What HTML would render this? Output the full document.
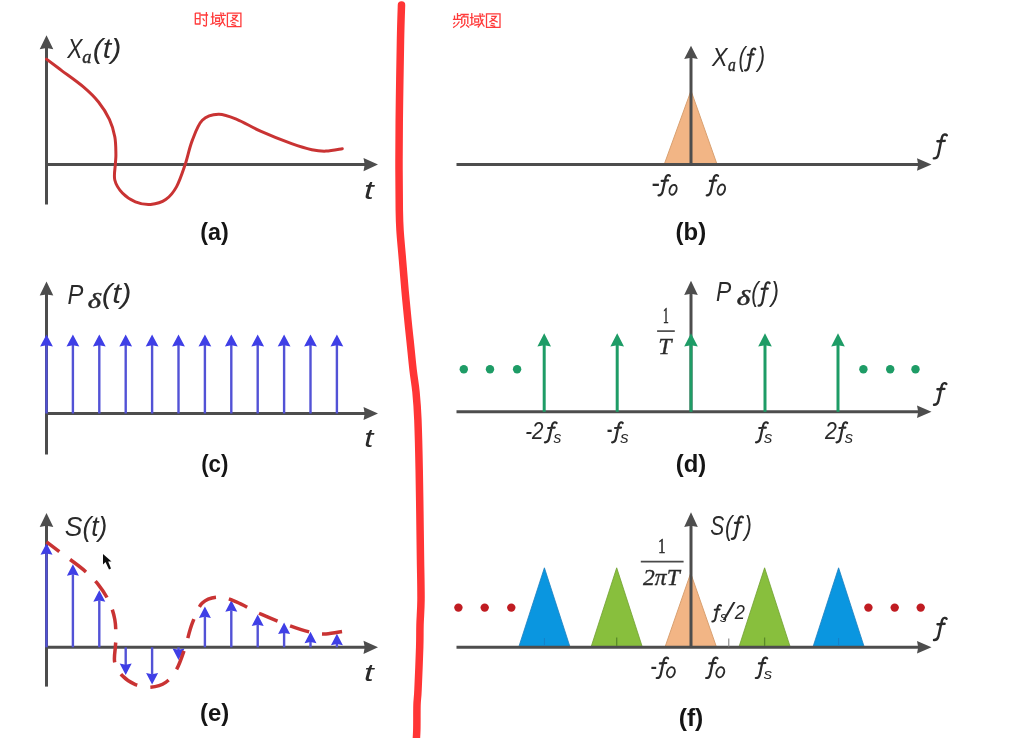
<!DOCTYPE html>
<html><head><meta charset="utf-8"><style>
html,body{margin:0;padding:0;background:#fff;width:1035px;height:738px;overflow:hidden}
svg{display:block;filter:blur(0.45px)}
</style></head><body>
<svg width="1035" height="738" viewBox="0 0 1035 738">
<defs><filter id="blur" x="-50%" y="-50%" width="200%" height="200%"><feGaussianBlur stdDeviation="0.6"/></filter></defs>
<rect width="1035" height="738" fill="#fff"/>
<path d="M401.5,5.0 C401.3,10.8 400.8,24.2 400.5,40.0 C400.2,55.8 399.8,80.0 399.5,100.0 C399.2,120.0 399.0,141.7 399.0,160.0 C399.0,178.3 399.1,198.3 399.3,210.0 C399.5,221.7 399.5,221.7 400.0,230.0 C400.5,238.3 401.7,250.0 402.5,260.0 C403.3,270.0 404.1,280.0 405.0,290.0 C405.9,300.0 407.1,311.7 407.9,320.0 C408.7,328.3 409.1,331.7 410.0,340.0 C410.9,348.3 412.1,361.3 413.1,370.0 C414.1,378.7 415.2,383.7 416.0,392.0 C416.8,400.3 417.4,407.0 417.9,420.0 C418.4,433.0 418.9,454.2 419.2,470.0 C419.5,485.8 419.7,500.0 419.9,515.0 C420.1,530.0 420.3,545.8 420.5,560.0 C420.7,574.2 421.1,589.2 421.0,600.0 C420.9,610.8 420.2,617.2 420.0,625.0 C419.8,632.8 420.0,636.2 419.7,647.0 C419.4,657.8 418.4,680.3 418.0,690.0 C417.6,699.7 417.2,698.3 417.0,705.0 C416.8,711.7 417.0,723.3 416.8,730.0 C416.6,736.7 416.1,742.5 416.0,745.0" fill="none" stroke="#ff3535" stroke-width="7.5" stroke-linecap="round" stroke-linejoin="round"/>
<g fill="none" stroke="#ff3a3a" stroke-width="1.3">
<path d="M195.3,13.1 V24.5 M195.3,13.1 H200 V24.5 M195.3,18.6 H200 M195.3,24 H200 M200.8,15 H208.1 M206.4,12.1 V25.2 Q206.4,26 205.4,26 L203,25.4 M202.7,18.3 L204.6,21 M210.8,16.9 H214.6 M212.7,12.3 V23.4 M210.3,24.5 L215.4,22.7 M214.9,15.3 H226 M215.7,18 H219.5 V21.3 H215.7 Z M215.2,24.5 L220.3,23.2 M220.8,12.3 Q221.2,21 225.3,25.9 M224.1,18.3 Q222,23 218.7,26.7 M222.6,12.8 L224,14.2 M227.4,13.1 H240.9 V26.6 H227.4 Z M232.2,15.5 H237.2 Q235,19.5 230.2,21.3 M232,17.2 Q234.5,20 238.6,21.3 M232,22.3 L235.6,23.2 M231.2,24.3 L236.2,25.6"/>
<path transform="translate(259.1,0.8)" d="M210.8,16.9 H214.6 M212.7,12.3 V23.4 M210.3,24.5 L215.4,22.7 M214.9,15.3 H226 M215.7,18 H219.5 V21.3 H215.7 Z M215.2,24.5 L220.3,23.2 M220.8,12.3 Q221.2,21 225.3,25.9 M224.1,18.3 Q222,23 218.7,26.7 M222.6,12.8 L224,14.2 M227.4,13.1 H240.9 V26.6 H227.4 Z M232.2,15.5 H237.2 Q235,19.5 230.2,21.3 M232,17.2 Q234.5,20 238.6,21.3 M232,22.3 L235.6,23.2 M231.2,24.3 L236.2,25.6"/>
<path d="M457.5,13.1 V19.4 M457.5,15.6 H461 M454.5,15.6 V19.4 M452.9,19.4 H462.1 M455,22.3 L453.4,24.2 M459.4,21.5 Q457.5,25.5 453.1,27.7 M460.4,14.5 H468.8 M464.3,14.5 L463.6,16.9 M461.8,16.9 H467.8 V24 M461.8,16.9 V24 M464.8,19 V23.5 Q464,26 460.2,27.6 M466,24.8 L469.2,27.6"/>
</g>
<polygon points="46.5,35.3 53.3,49.3 46.5,48.1 39.7,49.3" fill="#4d4d4d"/>
<line x1="46.5" y1="47.3" x2="46.5" y2="204.5" stroke="#4d4d4d" stroke-width="3.0" stroke-linecap="butt"/>
<line x1="45.0" y1="164.6" x2="366.0" y2="164.6" stroke="#4d4d4d" stroke-width="3.0" stroke-linecap="butt"/>
<polygon points="378.0,164.6 363.5,171.2 364.7,164.6 363.5,158.0" fill="#4d4d4d"/>
<path d="M46.5,59.1 C49.0,61.0 55.6,66.0 61.7,70.6 C67.9,75.2 77.3,81.7 83.4,86.9 C89.5,92.1 94.2,96.6 98.5,102.0 C102.8,107.4 106.7,113.6 109.4,119.4 C112.1,125.2 113.7,130.9 114.8,136.7 C115.9,142.5 115.8,149.5 115.9,154.0 C116.0,158.5 115.6,159.5 115.4,163.8 C115.2,168.1 113.6,175.1 114.8,180.0 C116.0,184.9 119.0,189.4 122.4,193.0 C125.8,196.6 130.7,199.9 135.4,201.8 C140.1,203.7 145.6,204.8 150.6,204.4 C155.6,204.0 161.4,202.6 165.7,199.6 C170.0,196.6 173.4,192.4 176.6,186.6 C179.8,180.8 182.4,172.7 185.0,165.0 C187.6,157.3 189.3,148.0 192.2,140.6 C195.1,133.2 197.9,124.7 202.3,120.3 C206.7,115.9 212.8,114.4 218.5,114.2 C224.2,114.0 229.7,116.4 236.8,119.3 C243.9,122.2 252.0,127.4 261.1,131.4 C270.2,135.5 283.2,140.6 291.6,143.6 C300.1,146.6 306.1,148.4 311.8,149.7 C317.5,150.9 320.9,151.3 326.0,151.1 C331.1,150.9 339.6,149.1 342.3,148.7" fill="none" stroke="#c93333" stroke-width="3" stroke-linecap="round"/>
<polygon points="46.5,281.6 53.3,295.6 46.5,294.4 39.7,295.6" fill="#4d4d4d"/>
<line x1="46.5" y1="293.6" x2="46.5" y2="454.5" stroke="#4d4d4d" stroke-width="3.0" stroke-linecap="butt"/>
<line x1="45.0" y1="413.5" x2="366.0" y2="413.5" stroke="#4d4d4d" stroke-width="3.0" stroke-linecap="butt"/>
<polygon points="378.0,413.5 363.5,420.1 364.7,413.5 363.5,406.9" fill="#4d4d4d"/>
<line x1="46.5" y1="413.5" x2="46.5" y2="345.0" stroke="#5252d6" stroke-width="2.4" stroke-linecap="butt"/>
<polygon points="46.5,334.5 52.9,346.5 46.5,345.3 40.1,346.5" fill="#3f3fe6"/>
<line x1="72.9" y1="413.5" x2="72.9" y2="345.0" stroke="#5252d6" stroke-width="2.4" stroke-linecap="butt"/>
<polygon points="72.9,334.5 79.3,346.5 72.9,345.3 66.5,346.5" fill="#3f3fe6"/>
<line x1="99.3" y1="413.5" x2="99.3" y2="345.0" stroke="#5252d6" stroke-width="2.4" stroke-linecap="butt"/>
<polygon points="99.3,334.5 105.7,346.5 99.3,345.3 92.9,346.5" fill="#3f3fe6"/>
<line x1="125.7" y1="413.5" x2="125.7" y2="345.0" stroke="#5252d6" stroke-width="2.4" stroke-linecap="butt"/>
<polygon points="125.7,334.5 132.1,346.5 125.7,345.3 119.3,346.5" fill="#3f3fe6"/>
<line x1="152.1" y1="413.5" x2="152.1" y2="345.0" stroke="#5252d6" stroke-width="2.4" stroke-linecap="butt"/>
<polygon points="152.1,334.5 158.5,346.5 152.1,345.3 145.7,346.5" fill="#3f3fe6"/>
<line x1="178.5" y1="413.5" x2="178.5" y2="345.0" stroke="#5252d6" stroke-width="2.4" stroke-linecap="butt"/>
<polygon points="178.5,334.5 184.9,346.5 178.5,345.3 172.1,346.5" fill="#3f3fe6"/>
<line x1="204.9" y1="413.5" x2="204.9" y2="345.0" stroke="#5252d6" stroke-width="2.4" stroke-linecap="butt"/>
<polygon points="204.9,334.5 211.3,346.5 204.9,345.3 198.5,346.5" fill="#3f3fe6"/>
<line x1="231.3" y1="413.5" x2="231.3" y2="345.0" stroke="#5252d6" stroke-width="2.4" stroke-linecap="butt"/>
<polygon points="231.3,334.5 237.7,346.5 231.3,345.3 224.9,346.5" fill="#3f3fe6"/>
<line x1="257.7" y1="413.5" x2="257.7" y2="345.0" stroke="#5252d6" stroke-width="2.4" stroke-linecap="butt"/>
<polygon points="257.7,334.5 264.1,346.5 257.7,345.3 251.3,346.5" fill="#3f3fe6"/>
<line x1="284.1" y1="413.5" x2="284.1" y2="345.0" stroke="#5252d6" stroke-width="2.4" stroke-linecap="butt"/>
<polygon points="284.1,334.5 290.5,346.5 284.1,345.3 277.7,346.5" fill="#3f3fe6"/>
<line x1="310.5" y1="413.5" x2="310.5" y2="345.0" stroke="#5252d6" stroke-width="2.4" stroke-linecap="butt"/>
<polygon points="310.5,334.5 316.9,346.5 310.5,345.3 304.1,346.5" fill="#3f3fe6"/>
<line x1="336.9" y1="413.5" x2="336.9" y2="345.0" stroke="#5252d6" stroke-width="2.4" stroke-linecap="butt"/>
<polygon points="336.9,334.5 343.3,346.5 336.9,345.3 330.5,346.5" fill="#3f3fe6"/>
<polygon points="46.5,513.0 53.3,527.0 46.5,525.8 39.7,527.0" fill="#4d4d4d"/>
<line x1="46.5" y1="525.0" x2="46.5" y2="686.6" stroke="#4d4d4d" stroke-width="3.0" stroke-linecap="butt"/>
<line x1="45.0" y1="647.3" x2="366.0" y2="647.3" stroke="#4d4d4d" stroke-width="3.0" stroke-linecap="butt"/>
<polygon points="378.0,647.3 363.5,653.9 364.7,647.3 363.5,640.7" fill="#4d4d4d"/>
<line x1="46.5" y1="647.3" x2="46.5" y2="553.2" stroke="#5252d6" stroke-width="2.4" stroke-linecap="butt"/>
<polygon points="46.5,543.2 52.5,554.7 46.5,553.5 40.5,554.7" fill="#3f3fe6"/>
<line x1="72.9" y1="647.3" x2="72.9" y2="574.3" stroke="#5252d6" stroke-width="2.4" stroke-linecap="butt"/>
<polygon points="72.9,564.3 78.9,575.8 72.9,574.6 66.9,575.8" fill="#3f3fe6"/>
<line x1="99.3" y1="647.3" x2="99.3" y2="600.3" stroke="#5252d6" stroke-width="2.4" stroke-linecap="butt"/>
<polygon points="99.3,590.3 105.3,601.8 99.3,600.6 93.3,601.8" fill="#3f3fe6"/>
<line x1="125.7" y1="647.3" x2="125.7" y2="665.0" stroke="#5252d6" stroke-width="2.4" stroke-linecap="butt"/>
<polygon points="125.7,675.0 131.7,663.5 125.7,664.7 119.7,663.5" fill="#3f3fe6"/>
<line x1="152.1" y1="647.3" x2="152.1" y2="674.6" stroke="#5252d6" stroke-width="2.4" stroke-linecap="butt"/>
<polygon points="152.1,684.6 158.1,673.1 152.1,674.3 146.1,673.1" fill="#3f3fe6"/>
<line x1="178.5" y1="647.3" x2="178.5" y2="650.0" stroke="#5252d6" stroke-width="2.4" stroke-linecap="butt"/>
<polygon points="178.5,660.0 184.5,648.5 178.5,649.7 172.5,648.5" fill="#3f3fe6"/>
<line x1="204.9" y1="647.3" x2="204.9" y2="616.4" stroke="#5252d6" stroke-width="2.4" stroke-linecap="butt"/>
<polygon points="204.9,606.4 210.9,617.9 204.9,616.7 198.9,617.9" fill="#3f3fe6"/>
<line x1="231.3" y1="647.3" x2="231.3" y2="610.3" stroke="#5252d6" stroke-width="2.4" stroke-linecap="butt"/>
<polygon points="231.3,600.3 237.3,611.8 231.3,610.6 225.3,611.8" fill="#3f3fe6"/>
<line x1="257.7" y1="647.3" x2="257.7" y2="624.5" stroke="#5252d6" stroke-width="2.4" stroke-linecap="butt"/>
<polygon points="257.7,614.5 263.7,626.0 257.7,624.8 251.7,626.0" fill="#3f3fe6"/>
<line x1="284.1" y1="647.3" x2="284.1" y2="632.6" stroke="#5252d6" stroke-width="2.4" stroke-linecap="butt"/>
<polygon points="284.1,622.6 290.1,634.1 284.1,632.9 278.1,634.1" fill="#3f3fe6"/>
<line x1="310.5" y1="647.3" x2="310.5" y2="641.7" stroke="#5252d6" stroke-width="2.4" stroke-linecap="butt"/>
<polygon points="310.5,631.7 316.5,643.2 310.5,642.0 304.5,643.2" fill="#3f3fe6"/>
<line x1="336.9" y1="647.3" x2="336.9" y2="643.8" stroke="#5252d6" stroke-width="2.4" stroke-linecap="butt"/>
<polygon points="336.9,633.8 342.9,645.3 336.9,644.1 330.9,645.3" fill="#3f3fe6"/>
<path d="M46.5,59.1 C49.0,61.0 55.6,66.0 61.7,70.6 C67.9,75.2 77.3,81.7 83.4,86.9 C89.5,92.1 94.2,96.6 98.5,102.0 C102.8,107.4 106.7,113.6 109.4,119.4 C112.1,125.2 113.7,130.9 114.8,136.7 C115.9,142.5 115.8,149.5 115.9,154.0 C116.0,158.5 115.6,159.5 115.4,163.8 C115.2,168.1 113.6,175.1 114.8,180.0 C116.0,184.9 119.0,189.4 122.4,193.0 C125.8,196.6 130.7,199.9 135.4,201.8 C140.1,203.7 145.6,204.8 150.6,204.4 C155.6,204.0 161.4,202.6 165.7,199.6 C170.0,196.6 173.4,192.4 176.6,186.6 C179.8,180.8 182.4,172.7 185.0,165.0 C187.6,157.3 189.3,148.0 192.2,140.6 C195.1,133.2 197.9,124.7 202.3,120.3 C206.7,115.9 212.8,114.4 218.5,114.2 C224.2,114.0 229.7,116.4 236.8,119.3 C243.9,122.2 252.0,127.4 261.1,131.4 C270.2,135.5 283.2,140.6 291.6,143.6 C300.1,146.6 306.1,148.4 311.8,149.7 C317.5,150.9 320.9,151.3 326.0,151.1 C331.1,150.9 339.6,149.1 342.3,148.7" transform="translate(0,482.8)" fill="none" stroke="#c93333" stroke-width="3.5" stroke-dasharray="20 13.3" stroke-dashoffset="3.83"/>
<polygon points="103,554 103,564.5 105.5,562 109,569.5 111,568.5 108.2,561.5 111.5,561.5" fill="#111" filter="url(#blur)"/>
<polygon points="691,90.7 717.1,164.5 664.2,164.5" fill="#f2b585" stroke="#d9a070" stroke-width="1"/>
<line x1="456.5" y1="164.5" x2="919.5" y2="164.5" stroke="#4d4d4d" stroke-width="3.0" stroke-linecap="butt"/>
<polygon points="931.5,164.5 917.0,170.8 918.2,164.5 917.0,158.2" fill="#4d4d4d"/>
<polygon points="691.0,45.8 697.8,59.0 691.0,57.8 684.2,59.0" fill="#4d4d4d"/>
<line x1="691.0" y1="57.0" x2="691.0" y2="164.5" stroke="#4d4d4d" stroke-width="3.0" stroke-linecap="butt"/>
<line x1="456.5" y1="411.8" x2="919.5" y2="411.8" stroke="#4d4d4d" stroke-width="3.0" stroke-linecap="butt"/>
<polygon points="931.5,411.8 917.0,418.1 918.2,411.8 917.0,405.5" fill="#4d4d4d"/>
<polygon points="691.0,280.8 697.8,295.0 691.0,293.8 684.2,295.0" fill="#4d4d4d"/>
<line x1="691.0" y1="293.0" x2="691.0" y2="411.8" stroke="#4d4d4d" stroke-width="3.0" stroke-linecap="butt"/>
<line x1="544.2" y1="411.8" x2="544.2" y2="345.0" stroke="#1e9c66" stroke-width="3.0" stroke-linecap="butt"/>
<polygon points="544.2,333.3 551.0,346.5 544.2,345.3 537.4,346.5" fill="#1e9c66"/>
<line x1="617.2" y1="411.8" x2="617.2" y2="345.0" stroke="#1e9c66" stroke-width="3.0" stroke-linecap="butt"/>
<polygon points="617.2,333.3 624.0,346.5 617.2,345.3 610.4,346.5" fill="#1e9c66"/>
<line x1="691.0" y1="411.8" x2="691.0" y2="345.0" stroke="#1e9c66" stroke-width="3.0" stroke-linecap="butt"/>
<polygon points="691.0,333.3 697.8,346.5 691.0,345.3 684.2,346.5" fill="#1e9c66"/>
<line x1="765.0" y1="411.8" x2="765.0" y2="345.0" stroke="#1e9c66" stroke-width="3.0" stroke-linecap="butt"/>
<polygon points="765.0,333.3 771.8,346.5 765.0,345.3 758.2,346.5" fill="#1e9c66"/>
<line x1="838.0" y1="411.8" x2="838.0" y2="345.0" stroke="#1e9c66" stroke-width="3.0" stroke-linecap="butt"/>
<polygon points="838.0,333.3 844.8,346.5 838.0,345.3 831.2,346.5" fill="#1e9c66"/>
<circle cx="463.8" cy="369.3" r="4.2" fill="#1e9c66"/>
<circle cx="490.0" cy="369.3" r="4.2" fill="#1e9c66"/>
<circle cx="517.1" cy="369.3" r="4.2" fill="#1e9c66"/>
<circle cx="863.4" cy="369.3" r="4.2" fill="#1e9c66"/>
<circle cx="890.2" cy="369.3" r="4.2" fill="#1e9c66"/>
<circle cx="915.5" cy="369.3" r="4.2" fill="#1e9c66"/>
<line x1="657.1" y1="331.1" x2="674.8" y2="331.1" stroke="#4a4a4a" stroke-width="1.7" stroke-linecap="butt"/>
<polygon points="544.4,567.8 570.1,647.2 518.7,647.2" fill="#0a96e0" stroke="#1a7fc0" stroke-width="0.8"/>
<polygon points="616.7,567.8 642.4,647.2 591.0,647.2" fill="#88bf3d" stroke="#70a030" stroke-width="0.8"/>
<polygon points="764.6,567.8 790.3,647.2 738.9,647.2" fill="#88bf3d" stroke="#70a030" stroke-width="0.8"/>
<polygon points="838.6,567.8 864.3,647.2 812.9,647.2" fill="#0a96e0" stroke="#1a7fc0" stroke-width="0.8"/>
<polygon points="690.7,573.2 716.5,647.2 665,647.2" fill="#f2b585" stroke="#d9a070" stroke-width="1"/>
<line x1="456.5" y1="647.3" x2="919.5" y2="647.3" stroke="#4d4d4d" stroke-width="3.0" stroke-linecap="butt"/>
<polygon points="931.5,647.3 917.0,653.6 918.2,647.3 917.0,641.0" fill="#4d4d4d"/>
<polygon points="691.0,512.2 697.8,527.0 691.0,525.8 684.2,527.0" fill="#4d4d4d"/>
<line x1="691.0" y1="525.0" x2="691.0" y2="647.2" stroke="#4d4d4d" stroke-width="3.0" stroke-linecap="butt"/>
<line x1="728.8" y1="638.5" x2="728.8" y2="647.2" stroke="#777" stroke-width="1.0" stroke-linecap="butt"/>
<line x1="616.7" y1="637.5" x2="616.7" y2="646.0" stroke="#5a8a28" stroke-width="1.3" stroke-linecap="butt"/>
<line x1="764.6" y1="637.5" x2="764.6" y2="646.0" stroke="#5a8a28" stroke-width="1.3" stroke-linecap="butt"/>
<line x1="544.4" y1="638.0" x2="544.4" y2="646.0" stroke="#1580c8" stroke-width="1.0" stroke-linecap="butt"/>
<line x1="838.6" y1="638.0" x2="838.6" y2="646.0" stroke="#1580c8" stroke-width="1.0" stroke-linecap="butt"/>
<circle cx="458.4" cy="607.6" r="4.2" fill="#c01c22"/>
<circle cx="484.7" cy="607.6" r="4.2" fill="#c01c22"/>
<circle cx="511.3" cy="607.6" r="4.2" fill="#c01c22"/>
<circle cx="868.4" cy="607.6" r="4.2" fill="#c01c22"/>
<circle cx="894.7" cy="607.6" r="4.2" fill="#c01c22"/>
<circle cx="920.7" cy="607.6" r="4.2" fill="#c01c22"/>
<line x1="640.8" y1="561.6" x2="683.6" y2="561.6" stroke="#4a4a4a" stroke-width="1.7" stroke-linecap="butt"/>
<path transform="matrix(1.0317 0 0 1.1193 933.18 133.66)" d="M13.2,1.5 C12.3,0.4 10.0,0.2 8.9,2.4 C8.0,4.2 6.2,14 5.0,18.6 C4.4,21 2.8,22.2 0.6,22.1 M4.1,6.8 L11.2,6.4" fill="none" stroke="#2a2a2a" stroke-width="2.40" stroke-linecap="round" vector-effect="non-scaling-stroke"/>
<path transform="matrix(0.9841 0 0 1.0138 933.41 382.40)" d="M13.2,1.5 C12.3,0.4 10.0,0.2 8.9,2.4 C8.0,4.2 6.2,14 5.0,18.6 C4.4,21 2.8,22.2 0.6,22.1 M4.1,6.8 L11.2,6.4" fill="none" stroke="#2a2a2a" stroke-width="2.40" stroke-linecap="round" vector-effect="non-scaling-stroke"/>
<path transform="matrix(1.0000 0 0 1.0321 933.40 617.19)" d="M13.2,1.5 C12.3,0.4 10.0,0.2 8.9,2.4 C8.0,4.2 6.2,14 5.0,18.6 C4.4,21 2.8,22.2 0.6,22.1 M4.1,6.8 L11.2,6.4" fill="none" stroke="#2a2a2a" stroke-width="2.40" stroke-linecap="round" vector-effect="non-scaling-stroke"/>
<path transform="matrix(0.9048 0 0 0.9450 657.96 174.42)" d="M13.2,1.5 C12.3,0.4 10.0,0.2 8.9,2.4 C8.0,4.2 6.2,14 5.0,18.6 C4.4,21 2.8,22.2 0.6,22.1 M4.1,6.8 L11.2,6.4" fill="none" stroke="#2a2a2a" stroke-width="2.20" stroke-linecap="round" vector-effect="non-scaling-stroke"/>
<path transform="matrix(0.9048 0 0 0.9450 706.16 174.42)" d="M13.2,1.5 C12.3,0.4 10.0,0.2 8.9,2.4 C8.0,4.2 6.2,14 5.0,18.6 C4.4,21 2.8,22.2 0.6,22.1 M4.1,6.8 L11.2,6.4" fill="none" stroke="#2a2a2a" stroke-width="2.20" stroke-linecap="round" vector-effect="non-scaling-stroke"/>
<path transform="matrix(0.9286 0 0 0.9358 544.34 421.62)" d="M13.2,1.5 C12.3,0.4 10.0,0.2 8.9,2.4 C8.0,4.2 6.2,14 5.0,18.6 C4.4,21 2.8,22.2 0.6,22.1 M4.1,6.8 L11.2,6.4" fill="none" stroke="#2a2a2a" stroke-width="2.20" stroke-linecap="round" vector-effect="non-scaling-stroke"/>
<path transform="matrix(0.8413 0 0 0.9358 611.60 421.62)" d="M13.2,1.5 C12.3,0.4 10.0,0.2 8.9,2.4 C8.0,4.2 6.2,14 5.0,18.6 C4.4,21 2.8,22.2 0.6,22.1 M4.1,6.8 L11.2,6.4" fill="none" stroke="#2a2a2a" stroke-width="2.20" stroke-linecap="round" vector-effect="non-scaling-stroke"/>
<path transform="matrix(0.9286 0 0 0.9358 755.44 421.62)" d="M13.2,1.5 C12.3,0.4 10.0,0.2 8.9,2.4 C8.0,4.2 6.2,14 5.0,18.6 C4.4,21 2.8,22.2 0.6,22.1 M4.1,6.8 L11.2,6.4" fill="none" stroke="#2a2a2a" stroke-width="2.20" stroke-linecap="round" vector-effect="non-scaling-stroke"/>
<path transform="matrix(0.8413 0 0 0.9358 836.00 421.62)" d="M13.2,1.5 C12.3,0.4 10.0,0.2 8.9,2.4 C8.0,4.2 6.2,14 5.0,18.6 C4.4,21 2.8,22.2 0.6,22.1 M4.1,6.8 L11.2,6.4" fill="none" stroke="#2a2a2a" stroke-width="2.20" stroke-linecap="round" vector-effect="non-scaling-stroke"/>
<path transform="matrix(0.9048 0 0 0.9541 656.16 656.91)" d="M13.2,1.5 C12.3,0.4 10.0,0.2 8.9,2.4 C8.0,4.2 6.2,14 5.0,18.6 C4.4,21 2.8,22.2 0.6,22.1 M4.1,6.8 L11.2,6.4" fill="none" stroke="#2a2a2a" stroke-width="2.20" stroke-linecap="round" vector-effect="non-scaling-stroke"/>
<path transform="matrix(0.9048 0 0 0.9541 705.56 656.91)" d="M13.2,1.5 C12.3,0.4 10.0,0.2 8.9,2.4 C8.0,4.2 6.2,14 5.0,18.6 C4.4,21 2.8,22.2 0.6,22.1 M4.1,6.8 L11.2,6.4" fill="none" stroke="#2a2a2a" stroke-width="2.20" stroke-linecap="round" vector-effect="non-scaling-stroke"/>
<path transform="matrix(0.8968 0 0 0.9541 755.26 656.91)" d="M13.2,1.5 C12.3,0.4 10.0,0.2 8.9,2.4 C8.0,4.2 6.2,14 5.0,18.6 C4.4,21 2.8,22.2 0.6,22.1 M4.1,6.8 L11.2,6.4" fill="none" stroke="#2a2a2a" stroke-width="2.20" stroke-linecap="round" vector-effect="non-scaling-stroke"/>
<path transform="matrix(0.6905 0 0 0.7706 711.89 604.47)" d="M13.2,1.5 C12.3,0.4 10.0,0.2 8.9,2.4 C8.0,4.2 6.2,14 5.0,18.6 C4.4,21 2.8,22.2 0.6,22.1 M4.1,6.8 L11.2,6.4" fill="none" stroke="#2a2a2a" stroke-width="2.00" stroke-linecap="round" vector-effect="non-scaling-stroke"/>
<path transform="matrix(0.8095 0 0 1.0229 744.61 47.79)" d="M13.2,1.5 C12.3,0.4 10.0,0.2 8.9,2.4 C8.0,4.2 6.2,14 5.0,18.6 C4.4,21 2.8,22.2 0.6,22.1 M4.1,6.8 L11.2,6.4" fill="none" stroke="#2a2a2a" stroke-width="2.20" stroke-linecap="round" vector-effect="non-scaling-stroke"/>
<path transform="matrix(0.8730 0 0 1.0872 758.08 281.57)" d="M13.2,1.5 C12.3,0.4 10.0,0.2 8.9,2.4 C8.0,4.2 6.2,14 5.0,18.6 C4.4,21 2.8,22.2 0.6,22.1 M4.1,6.8 L11.2,6.4" fill="none" stroke="#2a2a2a" stroke-width="2.20" stroke-linecap="round" vector-effect="non-scaling-stroke"/>
<path transform="matrix(0.8889 0 0 1.0459 731.27 515.79)" d="M13.2,1.5 C12.3,0.4 10.0,0.2 8.9,2.4 C8.0,4.2 6.2,14 5.0,18.6 C4.4,21 2.8,22.2 0.6,22.1 M4.1,6.8 L11.2,6.4" fill="none" stroke="#2a2a2a" stroke-width="2.20" stroke-linecap="round" vector-effect="non-scaling-stroke"/>
<ellipse cx="673.05" cy="189.80" rx="3.35" ry="5.12" transform="rotate(20 673.05 189.80)" fill="none" stroke="#2a2a2a" stroke-width="1.90"/>
<ellipse cx="721.35" cy="189.65" rx="3.44" ry="5.28" transform="rotate(20 721.35 189.65)" fill="none" stroke="#2a2a2a" stroke-width="1.90"/>
<ellipse cx="670.90" cy="672.25" rx="3.76" ry="5.14" transform="rotate(20 670.90 672.25)" fill="none" stroke="#2a2a2a" stroke-width="1.90"/>
<ellipse cx="720.30" cy="672.25" rx="3.76" ry="5.14" transform="rotate(20 720.30 672.25)" fill="none" stroke="#2a2a2a" stroke-width="1.90"/>
<text transform="matrix(0.8757 0 0 1.0648 67.24 58.40)" font-family="Liberation Sans, sans-serif" font-style="italic" font-weight="normal" font-size="26" fill="#2a2a2a">X</text>
<text transform="matrix(0.9714 0 0 1.0051 82.36 62.60)" font-family="Liberation Serif, sans-serif" font-style="italic" font-weight="normal" font-size="19" fill="#2a2a2a" stroke="#2a2a2a" stroke-width="0.45">a</text>
<text transform="matrix(1.1678 0 0 1.0833 92.64 58.11)" font-family="Liberation Sans, sans-serif" font-style="italic" font-weight="normal" font-size="26" fill="#2a2a2a">(t)</text>
<text transform="matrix(1.3481 0 0 1.0235 363.91 199.14)" font-family="Liberation Sans, sans-serif" font-style="italic" font-weight="normal" font-size="26" fill="#2a2a2a">t</text>
<text transform="matrix(1.0136 0 0 1.0372 200.33 240.07)" font-family="Liberation Sans, sans-serif" font-style="normal" font-weight="bold" font-size="23" fill="#151515">(a)</text>
<text transform="matrix(0.9152 0 0 1.0873 67.41 303.50)" font-family="Liberation Sans, sans-serif" font-style="italic" font-weight="normal" font-size="26" fill="#2a2a2a">P</text>
<text transform="matrix(1.4211 0 0 1.0169 87.84 307.59)" font-family="Liberation Serif, sans-serif" font-style="italic" font-weight="normal" font-size="20" fill="#2a2a2a" stroke="#2a2a2a" stroke-width="0.45">&#948;</text>
<text transform="matrix(1.2092 0 0 1.0625 101.79 302.92)" font-family="Liberation Sans, sans-serif" font-style="italic" font-weight="normal" font-size="26" fill="#2a2a2a">(t)</text>
<text transform="matrix(1.2593 0 0 0.9882 364.23 446.55)" font-family="Liberation Sans, sans-serif" font-style="italic" font-weight="normal" font-size="26" fill="#2a2a2a">t</text>
<text transform="matrix(0.9709 0 0 1.0744 201.19 472.20)" font-family="Liberation Sans, sans-serif" font-style="normal" font-weight="bold" font-size="23" fill="#151515">(c)</text>
<text transform="matrix(1.0152 0 0 1.0542 64.84 536.37)" font-family="Liberation Sans, sans-serif" font-style="italic" font-weight="normal" font-size="26" fill="#2a2a2a">S(t)</text>
<text transform="matrix(1.3481 0 0 0.9529 363.91 681.16)" font-family="Liberation Sans, sans-serif" font-style="italic" font-weight="normal" font-size="26" fill="#2a2a2a">t</text>
<text transform="matrix(1.0369 0 0 1.0698 200.00 720.72)" font-family="Liberation Sans, sans-serif" font-style="normal" font-weight="bold" font-size="23" fill="#151515">(e)</text>
<text transform="matrix(0.9706 0 0 1.1091 712.04 66.40)" font-family="Liberation Sans, sans-serif" font-style="italic" font-weight="normal" font-size="24" fill="#2a2a2a">X</text>
<text transform="matrix(0.9161 0 0 1.1529 728.07 71.11)" font-family="Liberation Serif, sans-serif" font-style="italic" font-weight="normal" font-size="17" fill="#2a2a2a" stroke="#2a2a2a" stroke-width="0.45">a</text>
<text transform="matrix(1.2842 0 0 1.4667 651.52 193.00)" font-family="Liberation Sans, sans-serif" font-style="normal" font-weight="normal" font-size="20" fill="#2a2a2a">-</text>
<text transform="matrix(1.0407 0 0 1.0372 675.60 240.27)" font-family="Liberation Sans, sans-serif" font-style="normal" font-weight="bold" font-size="23" fill="#151515">(b)</text>
<text transform="matrix(0.9533 0 0 1.1455 715.88 300.90)" font-family="Liberation Sans, sans-serif" font-style="italic" font-weight="normal" font-size="24" fill="#2a2a2a">P</text>
<text transform="matrix(1.5882 0 0 1.1846 736.70 304.80)" font-family="Liberation Serif, sans-serif" font-style="italic" font-weight="normal" font-size="18" fill="#2a2a2a" stroke="#2a2a2a" stroke-width="0.45">&#948;</text>
<text transform="matrix(0.5733 0 0 1.1127 662.94 322.52)" font-family="Liberation Serif, sans-serif" font-style="normal" font-weight="normal" font-size="20" fill="#2a2a2a" stroke="#2a2a2a" stroke-width="0.60">1</text>
<text transform="matrix(1.1911 0 0 1.1547 658.31 354.30)" font-family="Liberation Serif, sans-serif" font-style="italic" font-weight="normal" font-size="20" fill="#2a2a2a" stroke="#2a2a2a" stroke-width="0.30">T</text>
<text transform="matrix(0.9333 0 0 1.1016 525.23 439.30)" font-family="Liberation Sans, sans-serif" font-style="italic" font-weight="normal" font-size="22" fill="#2a2a2a">-2</text>
<text transform="matrix(1.1259 0 0 1.1600 553.60 442.80)" font-family="Liberation Sans, sans-serif" font-style="italic" font-weight="normal" font-size="14" fill="#2a2a2a">s</text>
<text transform="matrix(0.8632 0 0 1.4667 606.64 438.80)" font-family="Liberation Sans, sans-serif" font-style="normal" font-weight="normal" font-size="20" fill="#2a2a2a">-</text>
<text transform="matrix(1.2000 0 0 1.1600 620.30 442.80)" font-family="Liberation Sans, sans-serif" font-style="italic" font-weight="normal" font-size="14" fill="#2a2a2a">s</text>
<text transform="matrix(1.2000 0 0 1.1600 764.10 442.80)" font-family="Liberation Sans, sans-serif" font-style="italic" font-weight="normal" font-size="14" fill="#2a2a2a">s</text>
<text transform="matrix(0.9667 0 0 1.0623 825.00 439.30)" font-family="Liberation Sans, sans-serif" font-style="italic" font-weight="normal" font-size="22" fill="#2a2a2a">2</text>
<text transform="matrix(1.2000 0 0 1.1600 844.70 442.80)" font-family="Liberation Sans, sans-serif" font-style="italic" font-weight="normal" font-size="14" fill="#2a2a2a">s</text>
<text transform="matrix(1.0370 0 0 1.0605 675.70 471.96)" font-family="Liberation Sans, sans-serif" font-style="normal" font-weight="bold" font-size="23" fill="#151515">(d)</text>
<text transform="matrix(0.8733 0 0 1.1235 710.35 535.22)" font-family="Liberation Sans, sans-serif" font-style="italic" font-weight="normal" font-size="24" fill="#2a2a2a">S</text>
<text transform="matrix(0.7200 0 0 1.0400 658.22 553.24)" font-family="Liberation Serif, sans-serif" font-style="normal" font-weight="normal" font-size="20" fill="#2a2a2a" stroke="#2a2a2a" stroke-width="0.60">1</text>
<text transform="matrix(1.1754 0 0 1.2000 643.10 584.90)" font-family="Liberation Serif, sans-serif" font-style="italic" font-weight="normal" font-size="20" fill="#2a2a2a" stroke="#2a2a2a" stroke-width="0.30">2&#960;T</text>
<text transform="matrix(1.1652 0 0 1.2741 720.00 621.88)" font-family="Liberation Sans, sans-serif" font-style="italic" font-weight="normal" font-size="12" fill="#2a2a2a">s</text>
<text transform="matrix(1.5152 0 0 1.2000 724.42 620.20)" font-family="Liberation Sans, sans-serif" font-style="italic" font-weight="normal" font-size="20" fill="#2a2a2a">/</text>
<text transform="matrix(0.9116 0 0 0.9929 734.80 618.80)" font-family="Liberation Sans, sans-serif" font-style="italic" font-weight="normal" font-size="20" fill="#2a2a2a">2</text>
<text transform="matrix(0.9895 0 0 1.4000 650.51 675.30)" font-family="Liberation Sans, sans-serif" font-style="normal" font-weight="normal" font-size="20" fill="#2a2a2a">-</text>
<text transform="matrix(1.2148 0 0 1.0667 763.80 678.50)" font-family="Liberation Sans, sans-serif" font-style="italic" font-weight="normal" font-size="14" fill="#2a2a2a">s</text>
<text transform="matrix(1.0732 0 0 1.0372 678.66 726.27)" font-family="Liberation Sans, sans-serif" font-style="normal" font-weight="bold" font-size="23" fill="#151515">(f)</text>
<text transform="matrix(0.8706 0 0 1.1416 738.41 66.09)" font-family="Liberation Sans, sans-serif" font-style="italic" font-weight="normal" font-size="24" fill="#2a2a2a">(</text>
<text transform="matrix(0.9257 0 0 1.1416 757.78 66.09)" font-family="Liberation Sans, sans-serif" font-style="italic" font-weight="normal" font-size="24" fill="#2a2a2a">)</text>
<text transform="matrix(0.9176 0 0 1.1820 751.35 300.79)" font-family="Liberation Sans, sans-serif" font-style="italic" font-weight="normal" font-size="24" fill="#2a2a2a">(</text>
<text transform="matrix(0.9714 0 0 1.1820 771.29 300.79)" font-family="Liberation Sans, sans-serif" font-style="italic" font-weight="normal" font-size="24" fill="#2a2a2a">)</text>
<text transform="matrix(0.9176 0 0 1.1596 724.95 534.60)" font-family="Liberation Sans, sans-serif" font-style="italic" font-weight="normal" font-size="24" fill="#2a2a2a">(</text>
<text transform="matrix(0.9257 0 0 1.1596 744.38 534.60)" font-family="Liberation Sans, sans-serif" font-style="italic" font-weight="normal" font-size="24" fill="#2a2a2a">)</text>
</svg>
</body></html>
